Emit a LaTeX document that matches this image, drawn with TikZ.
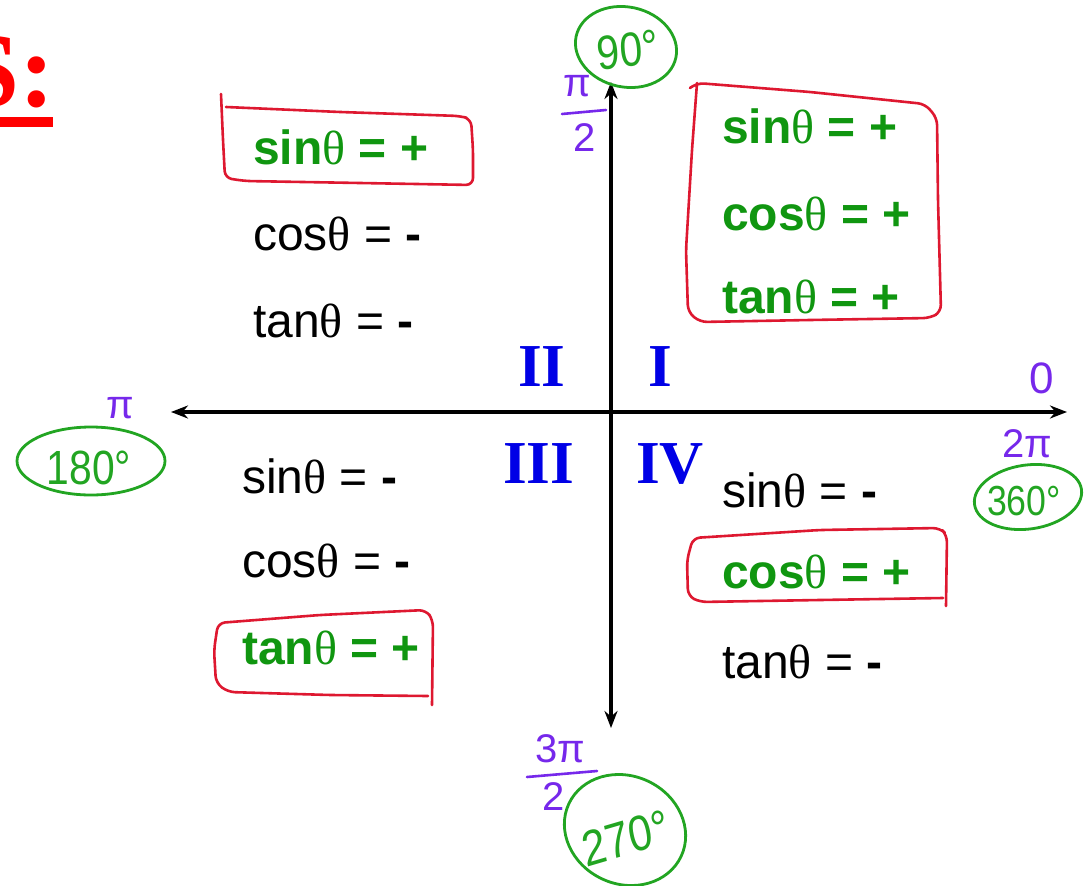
\documentclass[tikz,border=0pt]{standalone}
\usepackage{fontspec}
\setmainfont{Liberation Sans}
\newfontfamily\myserif{Liberation Serif}
\usetikzlibrary{arrows.meta}
\definecolor{tgreen}{RGB}{16,150,16}
\definecolor{hgreen}{RGB}{34,165,34}
\definecolor{boxred}{RGB}{222,24,48}
\definecolor{romblue}{RGB}{0,0,230}
\definecolor{hpurple}{RGB}{118,40,235}
\definecolor{titlered}{RGB}{255,0,0}
\newcommand{\tht}{{\myserif\mdseries θ}}
\tikzset{
  neg/.style={anchor=base west, inner sep=0pt, text=black, font=\fontsize{48}{48}\selectfont},
  posv/.style={anchor=base west, inner sep=0pt, text=tgreen, font=\bfseries\fontsize{48}{48}\selectfont},
  roman/.style={anchor=base west, inner sep=0pt, text=romblue, font=\myserif\bfseries\fontsize{61}{61}\selectfont},
  redbox/.style={draw=boxred, line width=2.6pt, rounded corners=7pt, line join=round, line cap=round},
  gcirc/.style={draw=hgreen, line width=2.8pt},
  gnum/.style={inner sep=0pt, text=hgreen, font=\fontsize{48}{48}\selectfont, xscale=0.85, transform shape},
  pnum/.style={inner sep=0pt, text=hpurple, font=\fontsize{40}{40}\selectfont},
  pline/.style={draw=hpurple, line width=2.6pt, line cap=round},
  axis/.style={draw=black, line width=3.6pt, {Stealth[length=17pt,width=13pt]}-{Stealth[length=17pt,width=13pt]}}
}
\begin{document}
\begin{tikzpicture}[x=1pt,y=-1pt]
\useasboundingbox (0,0) rectangle (1090,886);
\fill[white] (0,0) rectangle (1090,886);

% title (partly cut off at the left edge, as in the reference)
\node[anchor=base east, inner sep=0pt, text=titlered, font=\myserif\bfseries\fontsize{106}{106}\selectfont] (title) at (55,106) {S:};
\fill[titlered] (0,117) rectangle (53,127);

% axes
\coordinate (L) at (171,412);
\coordinate (R) at (1067,412);
\coordinate (T) at (611,82);
\coordinate (B) at (611,728);
\draw[axis] (L) -- (R);
\draw[axis] (B) -- (T);

% roman numerals
\node[roman] (rII) at (518,386) {II};
\node[roman] (rI) at (648,386) {I};
\node[roman] (rIII) at (503,483) {III};
\node[roman] (rIV) at (636,483) {IV};

% quadrant II
\node[posv] (q2s) at (253,164) {sin\tht{} = +};
\node[neg] (q2c) at (253,250) {cos\tht{} = \textbf{-}};
\node[neg] (q2t) at (253,337) {tan\tht{} = \textbf{-}};
% quadrant I
\node[posv] (q1s) at (722,143) {sin\tht{} = +};
\node[posv] (q1c) at (722,230) {cos\tht{} = +};
\node[posv] (q1t) at (722,313) {tan\tht{} = +};
% quadrant III
\node[neg] (q3s) at (242,493) {sin\tht{} = \textbf{-}};
\node[neg] (q3c) at (242,577) {cos\tht{} = \textbf{-}};
\node[posv] (q3t) at (242,664) {tan\tht{} = +};
% quadrant IV
\node[neg] (q4s) at (722,507) {sin\tht{} = \textbf{-}};
\node[posv] (q4c) at (722,588) {cos\tht{} = +};
\node[neg] (q4t) at (722,678) {tan\tht{} = \textbf{-}};

% red hand-drawn boxes
\draw[redbox] (221,94) -- (223,140) -- (225,178) -- (245,181) -- (360,183) -- (473,185) -- (473,150) -- (471,119) -- (460,116) -- (340,112) -- (226,107);
\draw[redbox] (690,88) -- (697,83) -- (810,92) -- (925,104) -- (937,118) -- (938,200) -- (941,312) -- (930,318) -- (810,320) -- (700,322) -- (688,312) -- (686,250) -- (692,150) -- (697,83);
\draw[redbox] (432,705) -- (433,620) -- (426,610) -- (320,615) -- (218,623) -- (214,650) -- (216,683) -- (228,692) -- (330,695) -- (428,696);
\draw[redbox] (946,606) -- (947,535) -- (940,528) -- (820,530) -- (693,538) -- (687,560) -- (688,596) -- (700,602) -- (820,600) -- (943,598);

% green circled degrees
\draw[gcirc, rotate around={-12:(626,47)}] (626,47) ellipse [x radius=51pt, y radius=40pt];
\node[gnum, rotate=6] (d90) at (628,50) {90°};
\draw[gcirc] (91,461) ellipse [x radius=74pt, y radius=34pt];
\node[gnum] (d180) at (89,468) {180°};
\draw[gcirc, rotate around={8:(1028,497)}] (1028,497) ellipse [x radius=54pt, y radius=32pt];
\node[gnum, font=\fontsize{42}{42}\selectfont] (d360) at (1024,501) {360°};
\draw[gcirc, rotate around={-25:(625,830)}] (625,830) ellipse [x radius=62pt, y radius=54pt];
\node[gnum, rotate=14, font=\fontsize{50}{50}\selectfont] (d270) at (626,838) {270°};

% purple radian labels
\node[pnum] (pi2a) at (577,86) {π};
\draw[pline] (562,114) -- (606,110);
\node[pnum] (pi2b) at (585,138) {2};
\node[pnum] (pi) at (120,408) {π};
\node[pnum, font=\fontsize{44}{44}\selectfont] (zero) at (1042,378) {0};
\node[pnum] (twopi) at (1027,444) {2π};
\node[pnum] (tpi) at (560,749) {3π};
\draw[pline] (527,777) -- (597,771);
\node[pnum] (tpi2) at (554,797) {2};
\end{tikzpicture}
\end{document}
